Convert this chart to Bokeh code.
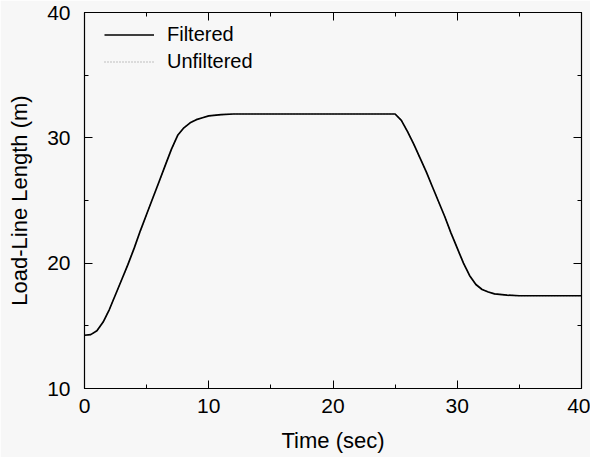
from bokeh.plotting import figure
from bokeh.models import LinearAxis, Legend, LegendItem, FixedTicker, Range1d, CustomJSTickFormatter
from bokeh.embed import file_html
from bokeh.resources import INLINE

# ---- data ----
time_s = [0, 0.5, 1.0, 1.5, 2.0, 2.5, 3.0, 3.5, 4.0, 4.5, 5.0, 5.5, 6.0, 6.5, 7.0,
          7.5, 8.0, 8.5, 9.0, 9.5, 10, 11, 12, 14, 16, 18, 20, 22, 24, 25,
          25.5, 26, 26.5, 27, 27.5, 28, 28.5, 29, 29.5, 30, 30.5, 31, 31.5, 32,
          32.5, 33, 34, 35, 36, 38, 40]
filtered = [14.25, 14.3, 14.6, 15.3, 16.3, 17.5, 18.7, 19.9, 21.2, 22.6, 23.9, 25.2,
            26.5, 27.8, 29.1, 30.2, 30.8, 31.2, 31.45, 31.6, 31.75, 31.85, 31.9, 31.9,
            31.9, 31.9, 31.9, 31.9, 31.9, 31.9,
            31.4, 30.5, 29.5, 28.4, 27.3, 26.1, 24.9, 23.7, 22.4, 21.2, 20.0, 19.0,
            18.3, 17.9, 17.7, 17.55, 17.45, 17.4, 17.4, 17.4, 17.4]
unfiltered = list(filtered)

x_ticks = [0, 10, 20, 30, 40]
y_ticks = [10, 20, 30, 40]
x_minor = [5, 15, 25, 35]
y_minor = [15, 25, 35]

BG = "#f7f7f7"
FONT = "Liberation Sans"

p = figure(width=590, height=457, output_backend="svg", toolbar_location=None,
           x_range=Range1d(0, 40), y_range=Range1d(10, 40),
           background_fill_color=BG, border_fill_color=BG,
           min_border_left=84, min_border_right=9, min_border_top=12, min_border_bottom=69)
p.grid.visible = False
p.outline_line_color = "black"
p.outline_line_width = 1.2

r_unf = p.line(time_s, unfiltered, line_color="#888888", line_width=1.2, line_dash="1 2")
r_fil = p.line(time_s, filtered, line_color="black", line_width=1.7)

for ax in (p.xaxis[0], p.yaxis[0]):
    ax.major_tick_in = 8
    ax.major_tick_out = 0
    ax.minor_tick_in = 4
    ax.minor_tick_out = 0
    ax.axis_line_color = "black"
    ax.major_label_text_font = FONT
    ax.major_label_text_font_size = "21px"
    ax.major_label_text_color = "black"
    ax.axis_label_text_font = FONT
    ax.axis_label_text_font_size = "22px"
    ax.axis_label_text_font_style = "normal"
    ax.axis_label_text_color = "black"

p.xaxis[0].ticker = FixedTicker(ticks=x_ticks, minor_ticks=x_minor)
p.yaxis[0].ticker = FixedTicker(ticks=y_ticks, minor_ticks=y_minor)
p.xaxis[0].axis_label = "Time (sec)"
p.yaxis[0].axis_label = "Load-Line Length (m)"
p.xaxis[0].major_label_standoff = 10
p.yaxis[0].major_label_standoff = 14
p.xaxis[0].axis_label_standoff = 12
p.yaxis[0].axis_label_standoff = 12

blank = CustomJSTickFormatter(code="return '';")
top = LinearAxis(ticker=FixedTicker(ticks=x_ticks, minor_ticks=x_minor), formatter=blank,
                 major_tick_in=8, major_tick_out=0,
                 minor_tick_in=4, minor_tick_out=0, major_label_standoff=0)
right = LinearAxis(ticker=FixedTicker(ticks=y_ticks, minor_ticks=y_minor), formatter=blank,
                   major_tick_in=8, major_tick_out=0,
                   minor_tick_in=4, minor_tick_out=0, major_label_standoff=0)
p.add_layout(top, "above")
p.add_layout(right, "right")

legend = Legend(items=[LegendItem(label="Filtered", renderers=[r_fil]),
                       LegendItem(label="Unfiltered", renderers=[r_unf])],
                location=(20, 313), margin=0, padding=0, spacing=0,
                glyph_width=50, glyph_height=27, label_height=27, label_standoff=13,
                label_text_font=FONT, label_text_font_size="20px", label_text_color="black",
                background_fill_alpha=0, border_line_color=None)
p.add_layout(legend)

open("out.html", "w").write(file_html(p, INLINE))
